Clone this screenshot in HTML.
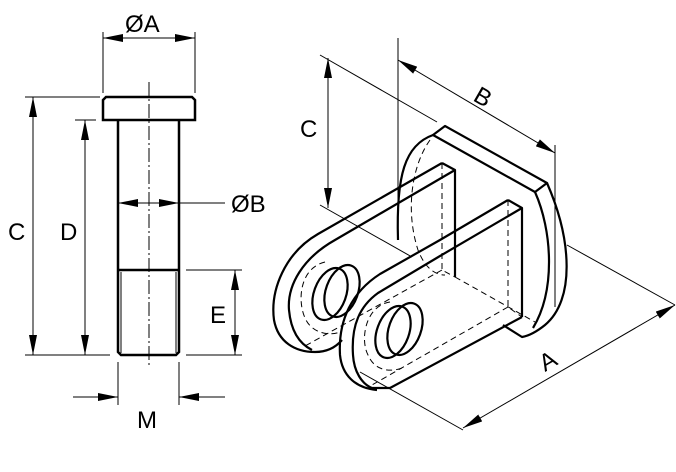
<!DOCTYPE html>
<html><head><style>body{margin:0;background:#fff}svg{display:block}text{font-family:"Liberation Sans",sans-serif;font-size:24px;fill:#000}</style></head><body>
<svg width="676" height="472" viewBox="0 0 676 472" xmlns="http://www.w3.org/2000/svg">
<defs><marker id="a" viewBox="0 0 20 8" refX="20" refY="4" markerWidth="20" markerHeight="8" orient="auto-start-reverse" markerUnits="userSpaceOnUse"><path d="M0,0L20,4L0,8z"/></marker></defs>
<g fill="none" stroke="#000">
<!-- pin -->
<path stroke-width="2.5" d="M106,97H192L195,100V120H103V100Z M118,120V352L121,355H176L179,352V120 M118,270H179"/>
<path stroke-width="1" d="M121,272V353M176,272V353"/>
<path stroke-width="1" stroke-dasharray="14,3,2,3" d="M149,82V367"/>
<g stroke-width="1">
<path d="M103,32V93M195,32V93"/>
<path d="M103,38H195" marker-start="url(#a)" marker-end="url(#a)"/>
<path d="M25,97H100M25,355H110M75,120H96M186,270H242M186,355H242M118,362V405M179,362V405"/>
<path d="M33,97V355" marker-start="url(#a)" marker-end="url(#a)"/>
<path d="M85,120V355" marker-start="url(#a)" marker-end="url(#a)"/>
<path d="M235,270V355" marker-start="url(#a)" marker-end="url(#a)"/>
<path d="M118,203H179" marker-start="url(#a)" marker-end="url(#a)"/>
<path d="M179,203H225"/>
<path d="M73,397H118" marker-end="url(#a)"/>
<path d="M225,397H179" marker-end="url(#a)"/>
</g>
<!-- iso part -->
<g stroke-width="2.2" stroke-linejoin="round">
<path d="M433,135L445,126L547,183L535,192Z"/>
<path d="M535,192C552,230 556,290 533,328"/>
<path d="M547,183C572,240 575,300 545,325C535,333 528,336 522,337L503,325"/>
<path d="M433,135C405,145 396,175 398,240"/>
<path d="M442,163L455,170V277"/>
<path d="M508,200L522,208V317"/>
<!-- upper arm -->
<path d="M442,163L318,234C285,253 270,290 274,320C278,342 295,352 315,352C328,352 336,347 342,340"/>
<path d="M455,170L335,240C303,258 287,285 289,310C291,332 300,344 312,350"/>
<!-- lower arm -->
<path d="M508,200L440,240L380,274C352,292 338,320 340,355C342,375 355,388 377,390"/>
<path d="M522,208L440,256L378,293C360,306 351,325 353,355C354,372 362,384 372,388L390,388L522,317"/>
<ellipse cx="330" cy="294" rx="16" ry="27" transform="rotate(20 330 294)"/>
<ellipse cx="342" cy="291" rx="16" ry="27" transform="rotate(20 342 291)"/>
<ellipse cx="393" cy="332" rx="16" ry="27" transform="rotate(20 393 332)"/>
<ellipse cx="405" cy="329" rx="16" ry="27" transform="rotate(20 405 329)"/>
</g>
<g stroke-width="1" stroke-dasharray="6,4">
<path d="M442,163V270L455,277M508,200V307L522,317"/>
<path d="M430,140C412,165 405,210 418,250C425,268 435,275 445,275"/>
<path d="M442,270L305,346M508,307L372,385M455,277L535,322"/>
<path d="M325,262C300,268 297,300 305,318C312,334 330,336 340,332"/>
<path d="M390,302C365,306 360,340 368,355C375,372 392,372 402,368"/>
</g>
<g stroke-width="1">
<path d="M320,55L437,122M320,205L412,257M398,38V240M555,145V307M567,245L675,305M360,372L463,430"/>
<path d="M328,58V208" marker-start="url(#a)" marker-end="url(#a)"/>
<path d="M398,60L555,153" marker-start="url(#a)" marker-end="url(#a)"/>
<path d="M463,428L675,305" marker-start="url(#a)" marker-end="url(#a)"/>
</g>
</g>
<g font-size="24">
<text x="125" y="32">ØA</text>
<text x="231" y="212">ØB</text>
<text x="8" y="240">C</text>
<text x="60" y="240">D</text>
<text x="210" y="323">E</text>
<text x="137" y="428">M</text>
<text x="300" y="137">C</text>
<text x="0" y="0" transform="translate(472,100) rotate(30)">B</text>
<text x="0" y="0" transform="translate(545,372) rotate(-30)">A</text>
</g>
</svg>
</body></html>
